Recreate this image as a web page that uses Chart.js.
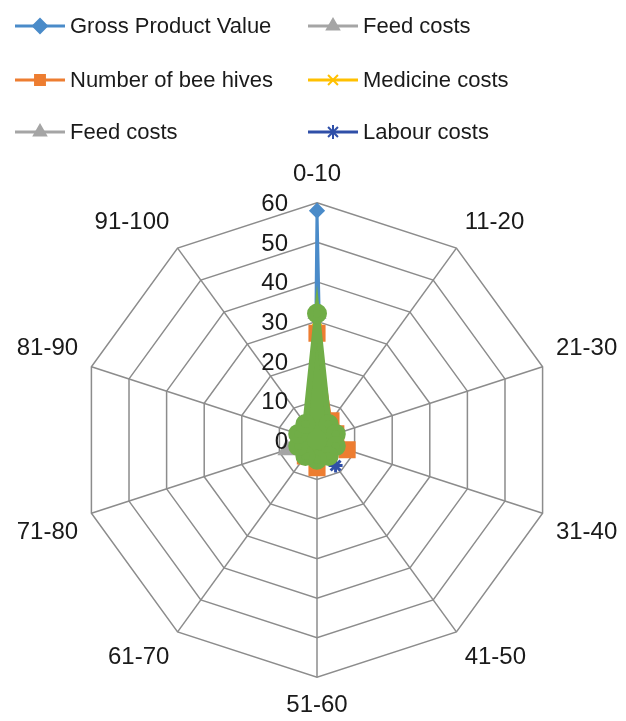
<!DOCTYPE html>
<html>
<head>
<meta charset="utf-8">
<script src="https://cdn.jsdelivr.net/npm/chart.js@4/dist/chart.umd.min.js"></script>
<style>
  html, body { margin: 0; padding: 0; background: #fff; }
  #wrap { width: 626px; height: 721px; }
</style>
</head>
<body>
<div id="wrap"><canvas id="radarChart"></canvas></div>
<script>
// DATA
let categories = ["0-10", "11-20", "21-30", "31-40", "41-50", "51-60", "61-70", "71-80", "81-90", "91-100"];
let tickValues = [0, 10, 20, 30, 40, 50, 60];

let grossProduct = [58, 2, 1, 1, 1, 1, 1, 1, 1, 1];
let beeHives     = [27, 6, 5, 8, 4, 7, 5, 2, 2, 2];
let feedCosts    = [32, 2, 2, 2, 2, 2, 2, 8, 3, 2];
let medicineCost = [30, 1, 1, 1, 1, 2, 3, 2, 1, 1];
let labourCosts  = [32, 3, 3, 4, 8, 4, 3, 3, 3, 3];
let otherCosts   = [32, 5, 5, 5, 5, 5, 5, 5, 5, 5];

// legend shows these datasets, row by row (2 per row)
let legendOrder = [0, 2, 1, 3, 2, 4];

const font = "'Liberation Sans', Arial, sans-serif";

function series(label, data, color, style, radius, order) {
    return {
        label: label,
        data: data,
        borderColor: color,
        backgroundColor: color,
        pointBackgroundColor: color,
        pointBorderColor: color,
        pointStyle: style,
        pointRadius: radius,
        borderWidth: 3,
        fill: false,
        order: order   // later series drawn on top, like the original
    };
}

let datasets = [
    series("Gross Product Value", grossProduct, "#4A8BC9", "rectRot", 6, 5),
    series("Number of bee hives", beeHives, "#ED7D31", "rect", 10, 4),
    series("Feed costs", feedCosts, "#A5A5A5", "triangle", 8, 3),
    series("Medicine costs", medicineCost, "#FFC000", "crossRot", 6, 2),
    series("Labour costs", labourCosts, "#2F4FA8", "star", 7, 1),
    series("", otherCosts, "#70AD47", "circle", 7, 0)
];
datasets[5].borderWidth = 6;
datasets[5].fill = true;

// legend in two columns
const gridLegend = {
    id: 'gridLegend',
    afterDraw(chart) {
        const ctx = chart.ctx;
        const colX = [15, 308], rowY = [26, 80, 132];
        ctx.save();
        legendOrder.forEach((dsIndex, k) => {
            const ds = chart.data.datasets[dsIndex];
            const x = colX[k % 2], y = rowY[Math.floor(k / 2)];
            ctx.strokeStyle = ds.borderColor;
            ctx.lineWidth = 3;
            ctx.beginPath();
            ctx.moveTo(x, y);
            ctx.lineTo(x + 50, y);
            ctx.stroke();
            ctx.fillStyle = ds.pointBackgroundColor;
            ctx.strokeStyle = ds.pointBorderColor;
            ctx.lineWidth = 2;
            Chart.helpers.drawPoint(ctx, { pointStyle: ds.pointStyle, radius: 7, borderWidth: 2 }, x + 25, y);
            ctx.fillStyle = "#1a1a1a";
            ctx.font = "22px " + font;
            ctx.textAlign = "left";
            ctx.textBaseline = "middle";
            ctx.fillText(ds.label, x + 55, y + 1);
        });
        ctx.restore();
    }
};

// tick labels left of the vertical axis
const tickLabels = {
    id: 'tickLabels',
    afterDraw(chart) {
        const scale = chart.scales.r;
        const ctx = chart.ctx;
        ctx.save();
        ctx.fillStyle = "#1a1a1a";
        ctx.font = "24px " + font;
        ctx.textAlign = "right";
        ctx.textBaseline = "middle";
        tickValues.forEach(v => {
            const d = scale.getDistanceFromCenterForValue(v);
            ctx.fillText(String(v), scale.xCenter - 29, scale.yCenter - d + 2);
        });
        ctx.restore();
    }
};

let radarCtx = document.getElementById('radarChart').getContext('2d');
let radarChart = new Chart(radarCtx, {
    type: 'radar',
    data: {
        labels: categories,
        datasets: datasets
    },
    options: {
        responsive: true,
        maintainAspectRatio: false,
        animation: false,
        layout: { padding: { top: 160, left: 8, right: 0, bottom: 0 } },
        elements: { line: { tension: 0 } },
        plugins: {
            legend: { display: false },
            tooltip: { enabled: false }
        },
        scales: {
            r: {
                min: 0,
                max: 60,
                ticks: { stepSize: 10, display: false },
                grid: { color: "#8c8c8c", lineWidth: 1.5 },
                angleLines: { color: "#8c8c8c", lineWidth: 1.5 },
                pointLabels: {
                    font: { family: font, size: 24 },
                    color: "#1a1a1a",
                    padding: 14
                }
            }
        }
    },
    plugins: [gridLegend, tickLabels]
});
</script>
</body>
</html>
